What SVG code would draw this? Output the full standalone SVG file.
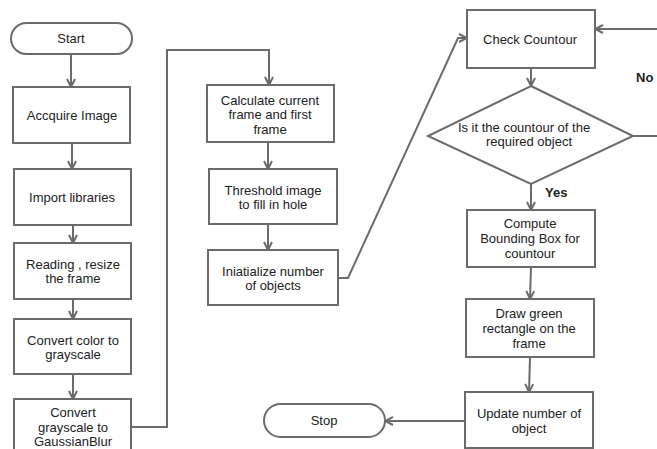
<svg xmlns="http://www.w3.org/2000/svg" width="657" height="449" viewBox="0 0 657 449">
<style>
.n{fill:#fff;stroke:#6b6b6b;stroke-width:2}
.c{fill:none;stroke:#6b6b6b;stroke-width:2}
text{font-family:"Liberation Sans",Arial,sans-serif;font-size:13px;fill:#222;text-anchor:middle}
.b{font-weight:bold}
</style>
<defs>
<marker id="a" viewBox="0 0 10 10" refX="9" refY="5" markerWidth="10" markerHeight="10" orient="auto" markerUnits="userSpaceOnUse">
<path d="M1,1 L9,5 L1,9" fill="none" stroke="#6b6b6b" stroke-width="2"/>
</marker>
</defs>
<rect width="657" height="449" fill="#fff"/>
<g id="connectors">
<path class="c" marker-end="url(#a)" d="M71,54 V87"/>
<path class="c" marker-end="url(#a)" d="M72,143 V169"/>
<path class="c" marker-end="url(#a)" d="M73,225 V243"/>
<path class="c" marker-end="url(#a)" d="M73,299 V319"/>
<path class="c" marker-end="url(#a)" d="M73,374 V399"/>
<path class="c" marker-end="url(#a)" d="M131,427 H167 V50 H269 V85"/>
<path class="c" marker-end="url(#a)" d="M268,142 V169"/>
<path class="c" marker-end="url(#a)" d="M268,224 V250"/>
<path class="c" marker-end="url(#a)" d="M338,278 H348 L458,38 H467"/>
<path class="c" marker-end="url(#a)" d="M531,68 V86"/>
<path class="c" d="M633,136 H657"/>
<path class="c" marker-end="url(#a)" d="M657,29 H595"/>
<path class="c" marker-end="url(#a)" d="M531,184 V210"/>
<path class="c" marker-end="url(#a)" d="M531,267 L530,299"/>
<path class="c" marker-end="url(#a)" d="M530,357 L529,392"/>
<path class="c" marker-end="url(#a)" d="M465,421 H385"/>
<text x="636" y="82" class="b" style="text-anchor:start">No</text>
<text x="545" y="197" class="b" style="text-anchor:start">Yes</text>
</g>
<g id="start"><rect class="n" x="11" y="23" width="121" height="31" rx="15.5"/><text x="71" y="43">Start</text></g>
<g id="acquire"><rect class="n" x="13" y="87" width="117" height="56"/><text x="72" y="120">Accquire Image</text></g>
<g id="import"><rect class="n" x="14" y="169" width="117" height="56"/><text x="72" y="202">Import libraries</text></g>
<g id="reading"><rect class="n" x="14" y="243" width="117" height="56"/><text x="73" y="269">Reading , resize</text><text x="73" y="283">the frame</text></g>
<g id="convert-color"><rect class="n" x="14" y="319" width="117" height="55"/><text x="73" y="345">Convert color to</text><text x="73" y="359">grayscale</text></g>
<g id="convert-gray"><rect class="n" x="14" y="399" width="117" height="60"/><text x="73" y="417">Convert</text><text x="73" y="432">grayscale to</text><text x="73" y="446">GaussianBlur</text></g>
<g id="calculate"><rect class="n" x="207" y="85" width="127" height="57"/><text x="270" y="105">Calculate current</text><text x="270" y="119">frame and first</text><text x="270" y="134">frame</text></g>
<g id="threshold"><rect class="n" x="209" y="169" width="128" height="55"/><text x="273" y="195">Threshold image</text><text x="273" y="209">to fill in hole</text></g>
<g id="initialize"><rect class="n" x="208" y="250" width="130" height="55"/><text x="273" y="276">Iniatialize number</text><text x="273" y="290">of objects</text></g>
<g id="check"><rect class="n" x="467" y="10" width="128" height="58"/><text x="530" y="44">Check Countour</text></g>
<g id="decision"><polygon class="n" points="531,86 633,136 531,184 428,136"/><text x="524" y="132">Is it the countour of the</text><text x="529" y="146">required object</text></g>
<g id="compute"><rect class="n" x="467" y="210" width="128" height="57"/><text x="530" y="228">Compute</text><text x="530" y="243">Bounding Box for</text><text x="530" y="258">countour</text></g>
<g id="draw"><rect class="n" x="466" y="299" width="128" height="58"/><text x="529" y="318">Draw green</text><text x="529" y="333">rectangle on the</text><text x="529" y="348">frame</text></g>
<g id="update"><rect class="n" x="465" y="392" width="128" height="56"/><text x="529" y="418">Update number of</text><text x="529" y="433">object</text></g>
<g id="stop"><rect class="n" x="264" y="404" width="121" height="33" rx="16.5"/><text x="324" y="425">Stop</text></g>
</svg>
